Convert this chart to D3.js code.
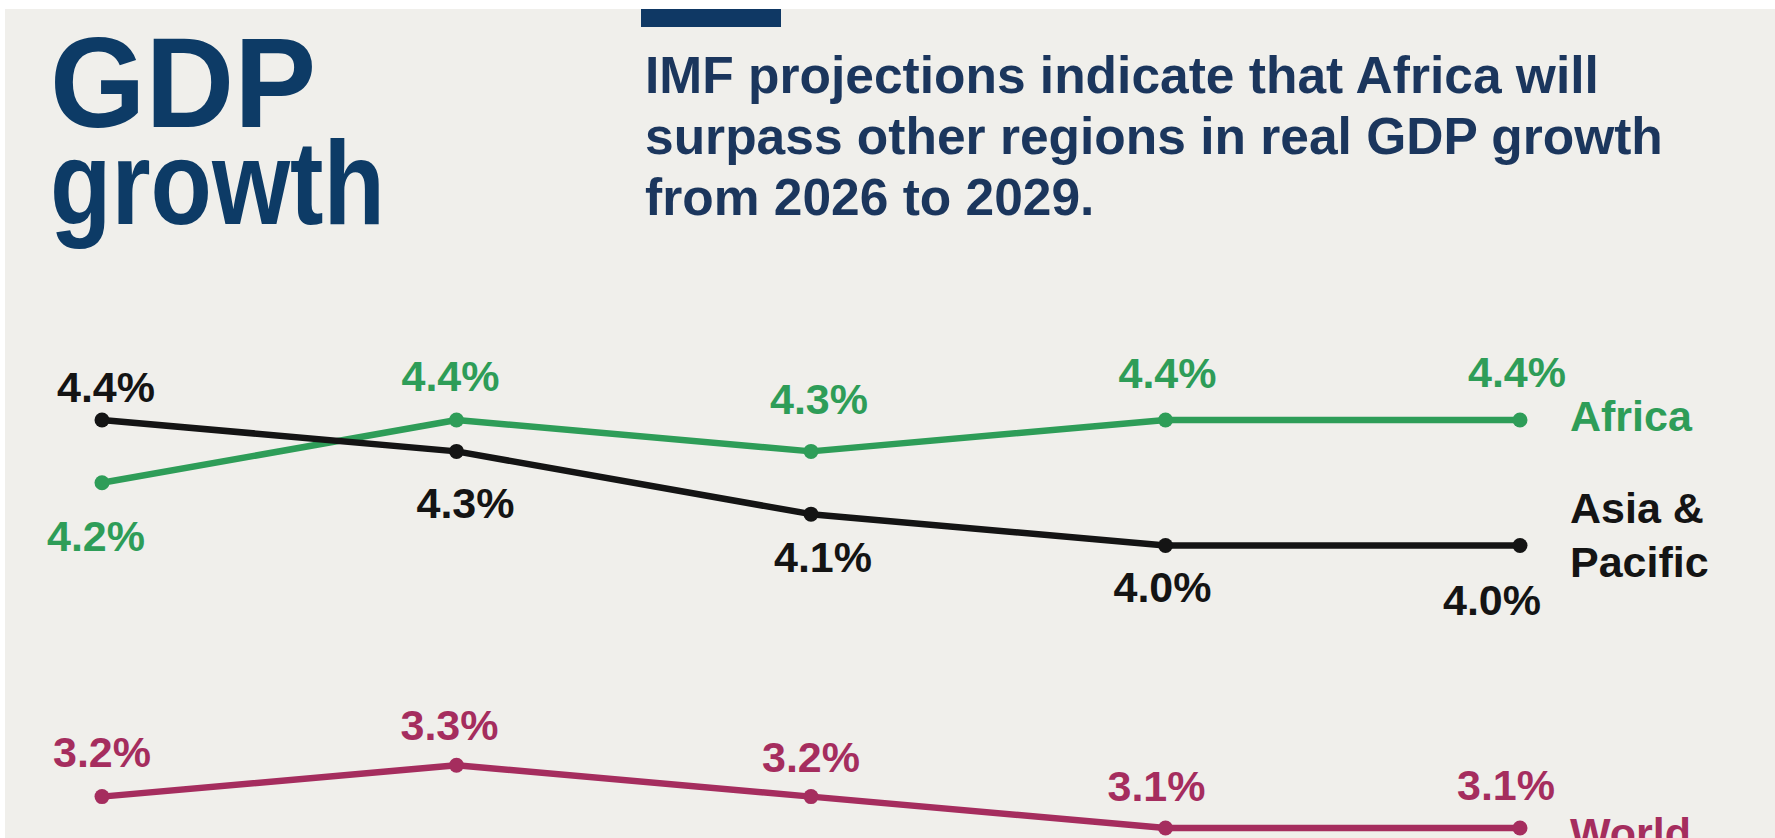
<!DOCTYPE html>
<html>
<head>
<meta charset="utf-8">
<script src="https://cdn.jsdelivr.net/npm/d3@7"></script>
<style>
  html, body { margin: 0; padding: 0; background: #fff; }
  svg { display: block; font-family: "Liberation Sans", Arial, sans-serif; }
</style>
</head>
<body>
<div id="chart"></div>
<script>
// data
var years = ["2025", "2026", "2027", "2028", "2029"];
var africa = [4.2, 4.4, 4.3, 4.4, 4.4];
var asiaPacific = [4.4, 4.3, 4.1, 4.0, 4.0];
var world = [3.2, 3.3, 3.2, 3.1, 3.1];
var seriesNames = ["Africa", "Asia & Pacific", "World"];

var svgWidth = 1775;
var svgHeight = 838;

var svg = d3.select("#chart")
  .append("svg")
  .attr("width", svgWidth)
  .attr("height", svgHeight);

// background panel (white edge top and left like the photo)
svg.append("rect")
  .attr("x", 5).attr("y", 9)
  .attr("width", svgWidth - 5).attr("height", svgHeight - 9)
  .attr("fill", "#f0efeb");

// little navy bar above the subtitle
svg.append("rect")
  .attr("x", 641).attr("y", 9)
  .attr("width", 140).attr("height", 18)
  .attr("fill", "#0f3864");

// big title
var title = svg.append("g").attr("fill", "#0d3b66").attr("font-weight", "bold");
title.append("text").attr("x", 50).attr("y", 127)
  .attr("font-size", 128).attr("textLength", 266).attr("lengthAdjust", "spacingAndGlyphs")
  .text("GDP");
title.append("text").attr("x", 50).attr("y", 224)
  .attr("font-size", 118).attr("textLength", 335).attr("lengthAdjust", "spacingAndGlyphs")
  .text("growth");

// subtitle
var subLines = [
  "IMF projections indicate that Africa will",
  "surpass other regions in real GDP growth",
  "from 2026 to 2029."
];
svg.append("g")
  .selectAll("text")
  .data(subLines)
  .enter()
  .append("text")
  .attr("x", 645)
  .attr("y", (d, i) => 93 + i * 61)
  .attr("font-size", 51.5)
  .attr("font-weight", "bold")
  .attr("fill", "#1b365d")
  .text(d => d);

// scales
var x = d3.scalePoint().domain(years).range([102, 1520]);
var y = d3.scaleLinear().domain([3.1, 4.4]).range([828, 420]);

// label nudges [dx, dy] from each point to the label baseline
var africaLabelPos = [[-6, 68], [-6, -29], [8, -37], [2, -32], [-3, -33]];
var asiaLabelPos = [[4, -18], [9, 67], [12, 58], [-3, 56], [-28, 69]];
var worldLabelPos = [[0, -30], [-7, -25], [0, -25], [-9, -27], [-14, -28]];

var series = [
  { name: seriesNames[0], values: africa, color: "#2e9d58", labelPos: africaLabelPos, nameLines: ["Africa"], nameDy: 11 },
  { name: seriesNames[1], values: asiaPacific, color: "#141414", labelPos: asiaLabelPos, nameLines: ["Asia &", "Pacific"], nameDy: -23 },
  { name: seriesNames[2], values: world, color: "#a52d5e", labelPos: worldLabelPos, nameLines: ["World"], nameDy: 20 }
];

var line = d3.line()
  .x((d, i) => x(years[i]))
  .y(d => y(d));

var chartGroup = svg.append("g");

series.forEach(function (s) {
  var g = chartGroup.append("g");

  g.append("path")
    .attr("d", line(s.values))
    .attr("fill", "none")
    .attr("stroke", s.color)
    .attr("stroke-width", 6.5)
    .attr("stroke-linejoin", "round");

  g.selectAll("circle")
    .data(s.values)
    .enter()
    .append("circle")
    .attr("cx", (d, i) => x(years[i]))
    .attr("cy", d => y(d))
    .attr("r", 7.5)
    .attr("fill", s.color);

  g.selectAll("text.val")
    .data(s.values)
    .enter()
    .append("text")
    .attr("class", "val")
    .attr("x", (d, i) => x(years[i]) + s.labelPos[i][0])
    .attr("y", (d, i) => y(d) + s.labelPos[i][1])
    .attr("text-anchor", "middle")
    .attr("font-size", 43)
    .attr("font-weight", "bold")
    .attr("fill", s.color)
    .text(d => d.toFixed(1) + "%");

  // series name at the right end
  var last = s.values[s.values.length - 1];
  g.selectAll("text.name")
    .data(s.nameLines)
    .enter()
    .append("text")
    .attr("class", "name")
    .attr("x", 1570)
    .attr("y", (d, i) => y(last) + s.nameDy + i * 54)
    .attr("font-size", 43)
    .attr("font-weight", "bold")
    .attr("fill", s.color)
    .text(d => d);
});
</script>
</body>
</html>
